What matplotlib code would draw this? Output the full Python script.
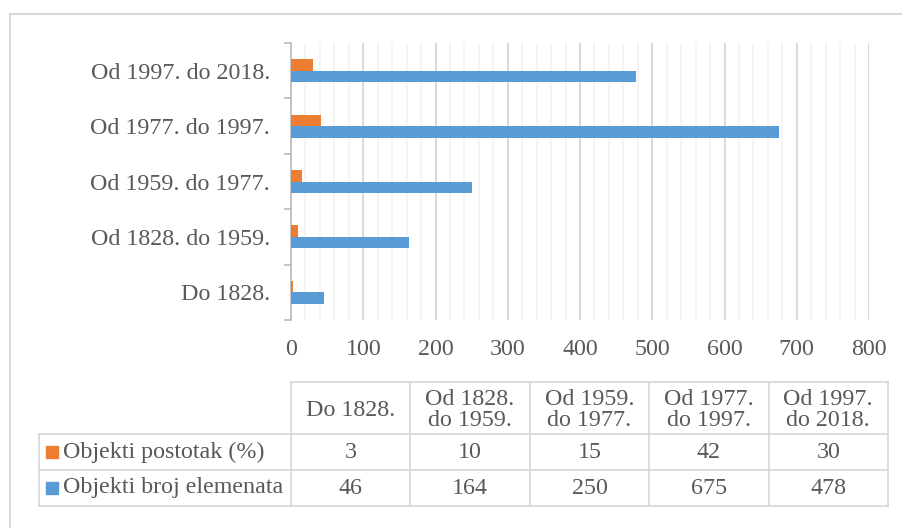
import matplotlib.pyplot as plt
import numpy as np
from matplotlib.ticker import MultipleLocator

plt.rcParams['font.family'] = ['Liberation Serif', 'DejaVu Serif']

# period categories, bottom to top on the y axis
periods = ['Do 1828.', 'Od 1828. do 1959.', 'Od 1959. do 1977.',
           'Od 1977. do 1997.', 'Od 1997. do 2018.']
header = ['Do 1828.', 'Od 1828.\ndo 1959.', 'Od 1959.\ndo 1977.',
          'Od 1977.\ndo 1997.', 'Od 1997.\ndo 2018.']
postotak = [3, 10, 15, 42, 30]          # Objekti postotak (%)
broj = [46, 164, 250, 675, 478]         # Objekti broj elemenata
series_names = ['Objekti postotak (%)', 'Objekti broj elemenata']

orange = '#ED7D31'
blue = '#5B9BD5'
txt = '#595959'
grid_major = '#d9d9d9'
grid_minor = '#f2f2f2'
fs = 17.3

W, H = 902, 528
fig = plt.figure(figsize=(W / 100, H / 100), dpi=100)

# pixel-space overlay for the frame and the data table
ov = fig.add_axes([0, 0, 1, 1])
ov.set_xlim(0, W)
ov.set_ylim(H, 0)
ov.axis('off')

ax_l, ax_r, ax_t, ax_b = 291, 869, 43, 320
ax = fig.add_axes([ax_l / W, 1 - ax_b / H, (ax_r - ax_l) / W, (ax_b - ax_t) / H])

y = np.arange(len(periods))
bh = 0.207
ax.barh(y + bh / 2, postotak, height=bh, color=orange, zorder=3)
ax.barh(y - bh / 2, broj, height=bh, color=blue, zorder=3)

ax.set_xlim(0, 800)
ax.set_ylim(-0.5, len(periods) - 0.5)
ax.xaxis.set_major_locator(MultipleLocator(100))
ax.xaxis.set_minor_locator(MultipleLocator(20))
ax.grid(axis='x', which='major', color=grid_major, lw=1.4, zorder=1)
ax.grid(axis='x', which='minor', color=grid_minor, lw=1.2, zorder=0)

ax.set_yticks(y)
ax.set_yticklabels(periods)
ax.set_yticks(np.arange(-0.5, len(periods)), minor=True)
ax.tick_params(axis='y', which='major', length=0, pad=15, labelsize=fs, labelcolor=txt)
ax.tick_params(axis='y', which='minor', length=5, width=1.3, color='#bfbfbf')
ax.tick_params(axis='x', which='both', length=0, pad=14, labelsize=fs, labelcolor=txt)

for s in ['top', 'right', 'bottom']:
    ax.spines[s].set_visible(False)
ax.spines['left'].set_color('#bfbfbf')
ax.spines['left'].set_linewidth(1.3)
ax.patch.set_alpha(0)

# outer chart border
ov.plot([10, 10, W], [H, 14, 14], color='#d9d9d9', lw=1.5)

# data table below the chart
tl, c0, tr = 39, 291, 888
cw = (tr - c0) / len(periods)
ty0, ty1, ty2, ty3 = 382, 434, 470, 506
lc = '#d9d9d9'
lw = 1.3
ov.plot([c0, tr], [ty0, ty0], color=lc, lw=lw)
for yy in [ty1, ty2, ty3]:
    ov.plot([tl, tr], [yy, yy], color=lc, lw=lw)
ov.plot([tl, tl], [ty1, ty3], color=lc, lw=lw)
for i in range(len(periods) + 1):
    ov.plot([c0 + i * cw, c0 + i * cw], [ty0, ty3], color=lc, lw=lw)

for i, h in enumerate(header):
    ov.text(c0 + (i + 0.5) * cw, (ty0 + ty1) / 2 + 2, h, ha='center', va='center',
            fontsize=fs, color=txt, linespacing=1.05)

rows = [(postotak, orange, ty1, ty2), (broj, blue, ty2, ty3)]
for (vals, col, ya, yb), name in zip(rows, series_names):
    yc = (ya + yb) / 2
    ov.add_patch(plt.Rectangle((46, yc - 6), 12, 12, color=col))
    ov.text(63, yc, name, ha='left', va='center', fontsize=fs, color=txt)
    for i, v in enumerate(vals):
        ov.text(c0 + (i + 0.5) * cw, yc, str(v), ha='center', va='center',
                fontsize=fs, color=txt)

fig.savefig('out.png', dpi=100)
